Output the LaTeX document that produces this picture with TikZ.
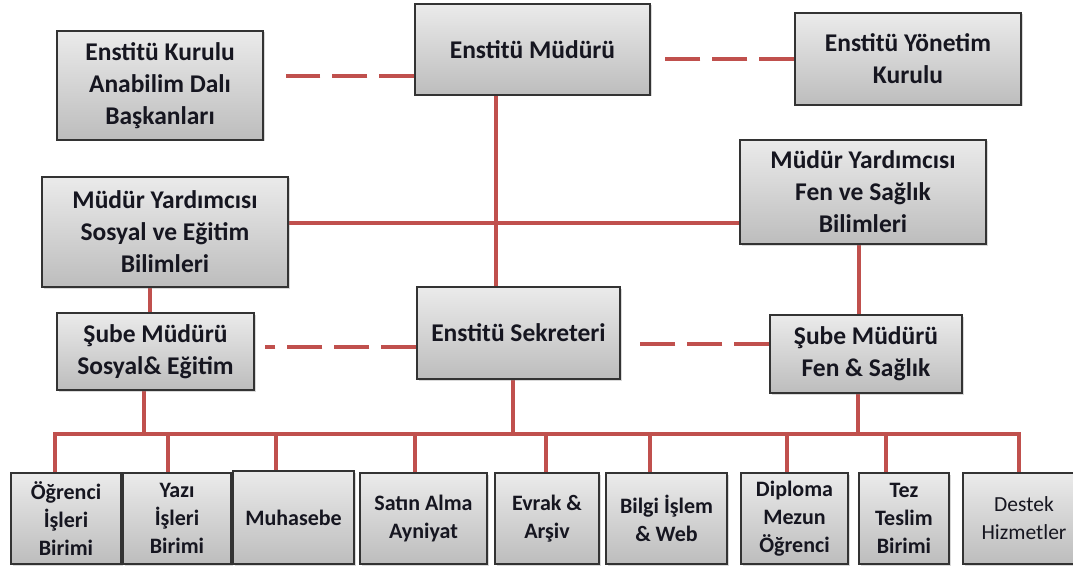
\documentclass[tikz,border=0pt]{standalone}
\usepackage{fontspec}
\setmainfont{Carlito}
\usepackage{tikz}
\newcommand{\rowheight}{91pt}
\definecolor{lineRed}{RGB}{192,80,77}
\definecolor{boxText}{RGB}{22,22,32}
\usetikzlibrary{calc,shadows}
\pgfdeclarelayer{bg}
\pgfsetlayers{bg,main}
\tikzset{
  unit/.style={draw=black!80,line width=1.3pt,top color=black!8,bottom color=black!26,align=center,inner sep=0,text=boxText,
    font=\bfseries\fontsize{25.5}{32}\selectfont,drop shadow={shadow xshift=1.5pt,shadow yshift=-1.5pt,opacity=.3}},
  office/.style={unit,minimum height=\rowheight,font=\bfseries\fontsize{22}{28}\selectfont},
  link/.style={draw=lineRed,line width=4.5pt},
  dashlink/.style={link,dash pattern=on 35pt off 12pt},
}

\begin{document}
\begin{tikzpicture}[x=1pt,y=-1pt]
  \useasboundingbox (0,0) rectangle (1073,572);
  % management
  \node (adb) [unit,minimum width=206pt,minimum height=109pt] at (160,85.5) {Enstitü Kurulu\\Anabilim Dalı\\Başkanları};
  \node (mudur) [unit,minimum width=235pt,minimum height=91pt] at (532.5,49.5) {Enstitü Müdürü};
  \node (yonetim) [unit,minimum width=226pt,minimum height=92pt] at (908,59) {Enstitü Yönetim\\Kurulu};
  \node (mysos) [unit,minimum width=246pt,minimum height=110pt] at (165,232) {Müdür Yardımcısı\\Sosyal ve Eğitim\\Bilimleri};
  \node (myfen) [unit,minimum width=246pt,minimum height=104pt] at (863,192) {Müdür Yardımcısı\\Fen ve Sağlık\\Bilimleri};
  \node (subesos) [unit,minimum width=197pt,minimum height=77pt] at (155.5,351.5) {Şube Müdürü\\Sosyal\& Eğitim};
  \node (sekreter) [unit,minimum width=203pt,minimum height=92pt] at (518.5,333) {Enstitü Sekreteri};
  \node (subefen) [unit,minimum width=192pt,minimum height=78pt] at (866,354) {Şube Müdürü\\Fen \& Sağlık};
  % offices
  \node (ogrenci) [office,minimum width=110pt] at (66,518.5) {Öğrenci\\İşleri\\Birimi};
  \node (yazi) [office,minimum width=108pt] at (177,518.5) {Yazı\\İşleri\\Birimi};
  \node (muhasebe) [office,minimum width=121pt,minimum height=93pt] at (293.5,517.5) {Muhasebe};
  \node (satin) [office,minimum width=127pt] at (423.5,518.5) {Satın Alma\\Ayniyat};
  \node (evrak) [office,minimum width=104pt] at (547,518.5) {Evrak \&\\Arşiv};
  \node (bilgi) [office,minimum width=121pt] at (666.5,518.5) {Bilgi İşlem\\\& Web};
  \node (diploma) [office,minimum width=107pt] at (794.5,518.5) {Diploma\\Mezun\\Öğrenci};
  \node (tez) [office,minimum width=90pt] at (904,518.5) {Tez\\Teslim\\Birimi};
  \node (destek) [office,minimum width=122pt,font=\mdseries\fontsize{21.5}{28}\selectfont] at (1024,518.5) {Destek\\Hizmetler};

  \begin{pgfonlayer}{bg}
    \coordinate (trunk) at (496,0);
    \coordinate (bar) at (0,223);
    \coordinate (soscol) at (150,0);
    \coordinate (fencol) at (859,0);
    \coordinate (busL) at (55,434);
    \coordinate (busR) at (1019,434);
    % dashed links
    \coordinate (a) at ($(mudur.west)+(0,26.5)$);
    \path [dashlink,shorten >=22pt] (a) -- (a -| adb.east);
    \path [dashlink,shorten >=9pt] (yonetim.west) -- (yonetim.west -| mudur.east);
    \coordinate (b) at ($(sekreter.west)+(0,14)$);
    \path [dashlink,shorten >=10pt] (b) -- (b -| subesos.east);
    \coordinate (c) at ($(subefen.west)+(0,-10)$);
    \path [dashlink,shorten >=8pt] (c) -- (c -| sekreter.east);
    % solid links
    \path [link] (mudur.south -| trunk) -- (sekreter.north -| trunk);
    \path [link] (mysos.east |- bar) -- (myfen.west |- bar);
    \path [link] (mysos.south -| soscol) -- (subesos.north -| soscol);
    \path [link] (myfen.south -| fencol) -- (subefen.north -| fencol);
    \path [link] (ogrenci.north -| busL) -- (busL) -- (busR) -- (destek.north -| busR);
    \foreach \n/\x in {subesos/144,sekreter/513,subefen/858}{
      \coordinate (d) at (\x,434);
      \path [link] (\n.south -| d) -- (d);
    }
    \foreach \n/\x in {yazi/168,muhasebe/276,satin/415,evrak/546,bilgi/650,diploma/787,tez/886}{
      \coordinate (d) at (\x,434);
      \path [link] (d) -- (d |- \n.north);
    }
  \end{pgfonlayer}
\end{tikzpicture}
\end{document}
